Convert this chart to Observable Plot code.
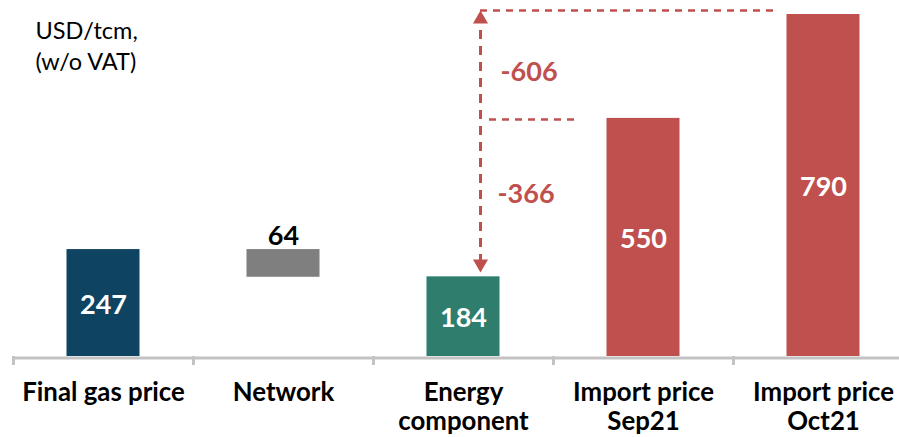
<!DOCTYPE html>
<html>
<head>
<meta charset="utf-8">
<script src="https://cdn.jsdelivr.net/npm/d3@7"></script>
<script src="https://cdn.jsdelivr.net/npm/@observablehq/plot@0.6"></script>
<style>
  html, body { margin: 0; padding: 0; background: #fff; }
  #chart svg { display: block; }
</style>
</head>
<body>
<div id="chart"></div>
<script>
// ---- data ----
const categories = ["Final gas price", "Network", "Energy component", "Import price Sep21", "Import price Oct21"];
const tickLabels = ["Final gas price", "Network", "Energy\ncomponent", "Import price\nSep21", "Import price\nOct21"];
const values = [247, 64, 184, 550, 790];
const colors = ["#0E4462", "#7F7F7F", "#2E7D6D", "#C0504D", "#C0504D"];
const labelInside = [true, false, true, true, true];
const unitTitle = "USD/tcm,\n(w/o VAT)";
const red = "#C0504D";

// network floats on top of the energy component, ending at the final price
const rows = categories.map((c, i) => {
  const y2 = i === 1 ? values[0] : values[i];
  const y1 = i === 1 ? values[0] - values[1] : 0;
  return {cat: c, label: tickLabels[i], value: values[i], y1, y2, color: colors[i], inside: labelInside[i]};
});

const energy = categories[2];
const diff606 = values[2] - values[4]; // -606
const diff366 = values[2] - values[3]; // -366

const chart = Plot.plot({
  width: 899,
  height: 437,
  marginTop: 14,
  marginBottom: 81,
  marginLeft: 13,
  marginRight: 0,
  x: {domain: categories, range: [13, 913], padding: 0},
  y: {domain: [0, 790], axis: null},
  color: {type: "identity"},
  style: {fontFamily: "Lato, 'Open Sans', sans-serif", background: "#fff", color: "#000", overflow: "visible"},
  marks: [
    Plot.barY(rows, {x: "cat", y1: "y1", y2: "y2", fill: "color", insetLeft: 53.5, insetRight: 53.5}),
    Plot.ruleY([0], {stroke: "#C3C3C3", strokeWidth: 3, dy: 1.5}),
    Plot.axisX({tickSize: 9, fill: "none", label: null, stroke: "#C3C3C3", strokeWidth: 3, dx: -90}),
    // category labels
    Plot.text(rows, {x: "cat", frameAnchor: "bottom", text: "label", dy: 22.7, lineAnchor: "top",
      lineHeight: 1.163, fontSize: 25.8, fontWeight: "bold", fill: "#000"}),
    // value labels
    Plot.text(rows.filter(d => d.inside), {x: "cat", y: d => (d.y1 + d.y2) / 2, text: d => String(d.value),
      fontSize: 27, fontWeight: "bold", fill: "#fff", dy: 2}),
    Plot.text(rows.filter(d => !d.inside), {x: "cat", y: "y2", text: d => String(d.value),
      lineAnchor: "bottom", fontSize: 27, fontWeight: "bold", fill: "#000", dy: -5}),
    // unit title
    Plot.text([unitTitle], {frameAnchor: "top-left", text: d => d, textAnchor: "start", lineAnchor: "top",
      dx: 22, dy: 1.3, fontSize: 23.5, lineHeight: 1.36, fill: "#000"}),
    // dashed reference lines
    Plot.ruleY([values[4]], {y: d => d, x1: () => energy, x2: () => categories[4], insetLeft: 107, insetRight: 136,
      dy: -4, stroke: red, strokeWidth: 2.5, strokeDasharray: "7,6"}),
    Plot.ruleY([values[3]], {y: d => d, x1: () => energy, x2: () => categories[3], insetLeft: 116, insetRight: 158,
      dy: 1, stroke: red, strokeWidth: 2.5, strokeDasharray: "7,6"}),
    // vertical double arrow
    Plot.ruleX([energy], {x: d => d, y1: values[4], y2: values[2], dx: 17, insetBottom: 8,
      stroke: red, strokeWidth: 3, strokeDasharray: "9,7"}),
    Plot.dot([energy], {x: d => d, y: values[4], dx: 17, dy: 4.7, symbol: "triangle", r: 5.6, fill: red, stroke: "none"}),
    Plot.dot([energy], {x: d => d, y: values[2], dx: 17, dy: -13, symbol: "triangle", rotate: 180, r: 5.6, fill: red, stroke: "none"}),
    // difference labels
    Plot.text([diff606], {x: () => energy, y: 656, text: d => String(d), textAnchor: "start", dx: 37,
      fontSize: 27, fontWeight: "bold", fill: red}),
    Plot.text([diff366], {x: () => energy, y: 374, text: d => String(d), textAnchor: "start", dx: 34,
      fontSize: 27, fontWeight: "bold", fill: red})
  ]
});
document.getElementById("chart").append(chart);
</script>
</body>
</html>
